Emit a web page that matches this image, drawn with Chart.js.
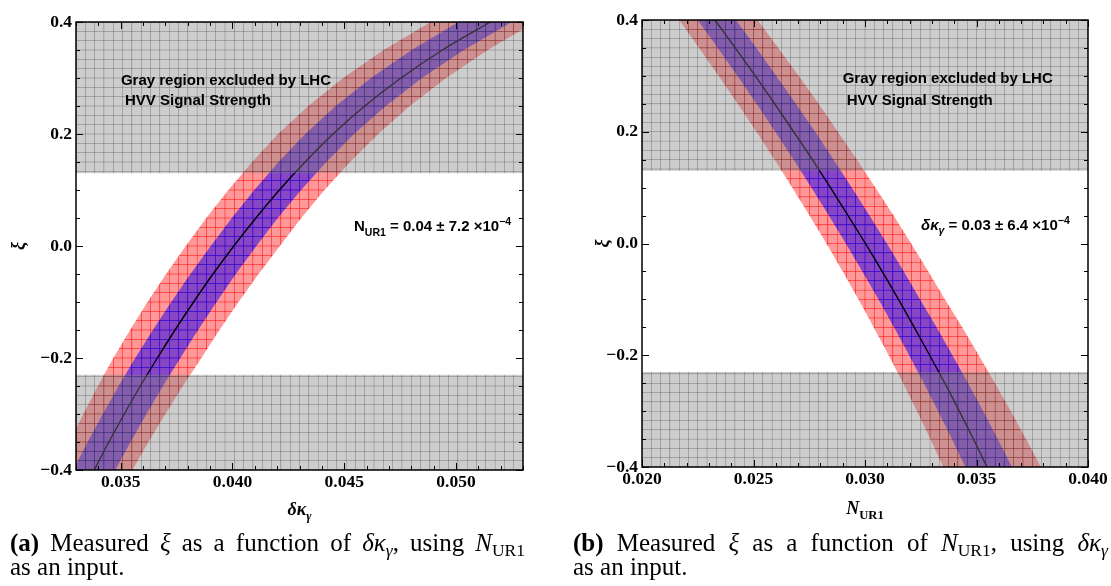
<!DOCTYPE html>
<html>
<head>
<meta charset="utf-8">
<script src="https://cdn.jsdelivr.net/npm/chart.js@4.4.1/dist/chart.umd.min.js"></script>
<style>
body { margin: 0; width: 1111px; height: 586px; overflow: hidden; background: #fff; position: relative; }
canvas { position: absolute; top: 0; }
#chartA { left: 0; }
#chartB { left: 556px; }
.cap { position: absolute; font-family: "Liberation Serif", serif; font-size: 25px; line-height: 24px; white-space: nowrap; color: #000; }
.cap.first { text-align: justify; text-align-last: justify; }
.cap sub { font-size: 70%; vertical-align: baseline; position: relative; top: 0.3em; }
</style>
</head>
<body>
<canvas id="chartA" width="555" height="535"></canvas>
<canvas id="chartB" width="555" height="535"></canvas>
<div class="cap first" style="left:10px;top:531px;width:515px"><b>(a)</b> Measured <i>ξ</i> as a function of <i>δκ</i><sub><i>γ</i></sub>, using <i>N</i><sub>UR1</sub></div>
<div class="cap" style="left:10px;top:555px">as an input.</div>
<div class="cap first" style="left:573px;top:531px;width:535px"><b>(b)</b> Measured <i>ξ</i> as a function of <i>N</i><sub>UR1</sub>, using <i>δκ</i><sub><i>γ</i></sub></div>
<div class="cap" style="left:573px;top:555px">as an input.</div>
<script>
const xiLevels = [-0.4, -0.35, -0.3, -0.25, -0.2, -0.15, -0.1, -0.05, 0.0,
                  0.05, 0.1, 0.15, 0.2, 0.25, 0.3, 0.35, 0.4];

// (a) xi as a function of delta kappa_gamma (N_UR1 as input)
const dkCentral  = [0.03382, 0.03447, 0.03516, 0.03588, 0.03664, 0.03743, 0.03826, 0.03913, 0.04006,
                    0.04105, 0.04210, 0.04325, 0.04450, 0.04592, 0.04754, 0.04940, 0.05154];
const dkBlueLow  = [0.03288, 0.03352, 0.03420, 0.03491, 0.03565, 0.03644, 0.03726, 0.03812, 0.03903,
                    0.03997, 0.04098, 0.04206, 0.04326, 0.04462, 0.04620, 0.04802, 0.05011];
const dkBlueHigh = [0.03476, 0.03544, 0.03615, 0.03689, 0.03767, 0.03846, 0.03929, 0.04015, 0.04107,
                    0.04203, 0.04307, 0.04420, 0.04544, 0.04686, 0.04848, 0.05035, 0.05250];
const dkRedLow   = [0.03212, 0.03271, 0.03333, 0.03398, 0.03467, 0.03542, 0.03620, 0.03703, 0.03791,
                    0.03883, 0.03982, 0.04088, 0.04204, 0.04339, 0.04495, 0.04676, 0.04886];
const dkRedHigh  = [0.03552, 0.03624, 0.03700, 0.03778, 0.03861, 0.03942, 0.04027, 0.04117, 0.04212,
                    0.04308, 0.04412, 0.04526, 0.04652, 0.04793, 0.04956, 0.05142, 0.05355];

// (b) xi as a function of N_UR1 (delta kappa_gamma as input)
const nCentral  = [0.03547, 0.03486, 0.03423, 0.03358, 0.03290, 0.03221, 0.03150, 0.03077, 0.03002,
                   0.02924, 0.02845, 0.02764, 0.02680, 0.02595, 0.02508, 0.02418, 0.02327];
const nBlueLow  = [0.03450, 0.03390, 0.03328, 0.03264, 0.03198, 0.03130, 0.03061, 0.02988, 0.02914,
                   0.02838, 0.02760, 0.02680, 0.02598, 0.02514, 0.02428, 0.02340, 0.02250];
const nBlueHigh = [0.03659, 0.03595, 0.03530, 0.03462, 0.03392, 0.03321, 0.03247, 0.03174, 0.03098,
                   0.03020, 0.02941, 0.02859, 0.02776, 0.02690, 0.02602, 0.02513, 0.02421];
const nRedLow   = [0.03351, 0.03293, 0.03233, 0.03171, 0.03106, 0.03039, 0.02971, 0.02900, 0.02827,
                   0.02751, 0.02674, 0.02595, 0.02513, 0.02429, 0.02344, 0.02256, 0.02167];
const nRedHigh  = [0.03789, 0.03722, 0.03654, 0.03583, 0.03510, 0.03436, 0.03359, 0.03284, 0.03207,
                   0.03128, 0.03047, 0.02964, 0.02878, 0.02792, 0.02703, 0.02611, 0.02518];

// LHC HVV signal strength exclusion (gray)
const lhcUpper = 0.13;
const lhcLower = -0.23;

// ticks
const xiTicks = [-0.4, -0.2, 0.0, 0.2, 0.4];
const xiTickLabels = ["\u22120.4", "\u22120.2", "0.0", "0.2", "0.4"];
const dkTicks = [0.035, 0.040, 0.045, 0.050];
const dkTickLabels = ["0.035", "0.040", "0.045", "0.050"];
const nTicks = [0.020, 0.025, 0.030, 0.035, 0.040];
const nTickLabels = ["0.020", "0.025", "0.030", "0.035", "0.040"];

const meshCells = 48;
const tickFont = { family: "'Liberation Serif', serif", size: 17.5, weight: 'bold' };

function meshPattern(chart, base, line) {
  const a = chart.chartArea;
  const size = 40;
  const cw = (a.right - a.left) / meshCells, ch = (a.bottom - a.top) / meshCells;
  const tile = document.createElement('canvas');
  tile.width = tile.height = size;
  const t = tile.getContext('2d');
  t.fillStyle = base;
  t.fillRect(0, 0, size, size);
  t.fillStyle = line;
  t.fillRect(0, 0, size / cw, size);
  t.fillRect(0, 0, size, size / ch);
  const p = chart.ctx.createPattern(tile, 'repeat');
  p.setTransform(new DOMMatrix([cw / size, 0, 0, ch / size, a.left - 0.5, a.top - 0.5]));
  return p;
}

function patternFor(base, line) {
  return (c) => c.chart.chartArea ? meshPattern(c.chart, base, line) : base;
}

function band(lo, hi) {
  const a = lo.map((x, i) => ({ x, y: xiLevels[i] }));
  const b = hi.map((x, i) => ({ x, y: xiLevels[i] })).reverse();
  return a.concat(b);
}

function drawRich(ctx, parts, x, y, size, family, align) {
  let w = 0;
  const items = parts.map(p => {
    const s = (p.sub || p.sup) ? size * 0.7 : size;
    const font = (p.style || 'bold') + ' ' + s + 'px ' + (p.family || family);
    ctx.font = font;
    const pw = ctx.measureText(p.t).width;
    w += pw;
    return Object.assign({}, p, { font, pw });
  });
  let cx = align === 'center' ? x - w / 2 : x;
  ctx.textAlign = 'left';
  ctx.textBaseline = 'alphabetic';
  for (const it of items) {
    ctx.font = it.font;
    const dy = it.sub ? size * 0.28 : it.sup ? -size * 0.42 : 0;
    ctx.fillText(it.t, cx, y + dy);
    cx += it.pw;
  }
}

const framePlugin = {
  id: 'frame',
  afterDraw(chart, args, o) {
    const { ctx, chartArea: a, scales: { x, y } } = chart;
    ctx.save();
    ctx.strokeStyle = '#000';
    ctx.lineWidth = 1;
    ctx.beginPath();
    const nx = Math.round((x.max - x.min) / o.xMinor);
    for (let i = 0; i <= nx; i++) {
      const v = x.min + i * o.xMinor;
      const major = Math.abs(v / o.xMajor - Math.round(v / o.xMajor)) < 1e-6;
      const px = Math.round(x.getPixelForValue(v)) + 0.5;
      const len = major ? 7 : 4;
      ctx.moveTo(px, a.bottom); ctx.lineTo(px, a.bottom - len);
      ctx.moveTo(px, a.top); ctx.lineTo(px, a.top + len);
    }
    const ny = Math.round((y.max - y.min) / o.yMinor);
    for (let i = 0; i <= ny; i++) {
      const v = y.min + i * o.yMinor;
      const major = Math.abs(v / o.yMajor - Math.round(v / o.yMajor)) < 1e-6;
      const py = Math.round(y.getPixelForValue(v)) + 0.5;
      const len = major ? 7 : 4;
      ctx.moveTo(a.left, py); ctx.lineTo(a.left + len, py);
      ctx.moveTo(a.right, py); ctx.lineTo(a.right - len, py);
    }
    ctx.stroke();
    ctx.lineWidth = 1.5;
    ctx.strokeRect(a.left, a.top, a.right - a.left, a.bottom - a.top);

    ctx.fillStyle = '#000';
    const sans = "'Liberation Sans', Arial, sans-serif";
    for (const n of o.notes) {
      drawRich(ctx, n.parts, x.getPixelForValue(n.x), y.getPixelForValue(n.y), 15, sans, 'left');
    }
    const serif = "'Liberation Serif', serif";
    drawRich(ctx, o.xTitle, (a.left + a.right) / 2, a.bottom + o.xTitleOffset, 18, serif, 'center');
    ctx.save();
    ctx.translate(a.left - o.yTitleOffset, (a.top + a.bottom) / 2);
    ctx.rotate(-Math.PI / 2);
    drawRich(ctx, [{ t: 'ξ', style: 'italic bold' }], 0, 6, 18, serif, 'center');
    ctx.restore();
    ctx.restore();
  }
};

function makeChart(id, c) {
  const grayFill = patternFor('rgba(130,130,130,0.4)', 'rgba(50,50,50,0.28)');
  return new Chart(document.getElementById(id), {
    type: 'line',
    data: {
      datasets: [
        {
          data: [{ x: c.xMin, y: lhcUpper }, { x: c.xMax, y: lhcUpper }],
          borderWidth: 0, pointRadius: 0, fill: 'end', order: 1, backgroundColor: grayFill
        },
        {
          data: [{ x: c.xMin, y: lhcLower }, { x: c.xMax, y: lhcLower }],
          borderWidth: 0, pointRadius: 0, fill: 'start', order: 1, backgroundColor: grayFill
        },
        {
          data: c.central.map((x, i) => ({ x, y: xiLevels[i] })),
          borderColor: '#000', borderWidth: 1.4, pointRadius: 0, tension: 0.3, fill: false, order: 2
        },
        {
          data: band(c.blueLow, c.blueHigh),
          borderWidth: 0, pointRadius: 0, fill: 'shape', order: 3,
          backgroundColor: patternFor('rgba(55,15,225,0.6)', 'rgba(0,0,255,0.45)')
        },
        {
          data: band(c.redLow, c.redHigh),
          borderWidth: 0, pointRadius: 0, fill: 'shape', order: 4,
          backgroundColor: patternFor('#ff9999', 'rgba(255,0,0,0.5)')
        }
      ]
    },
    options: {
      responsive: false,
      animation: false,
      devicePixelRatio: 1,
      layout: { padding: c.padding },
      plugins: {
        legend: { display: false },
        tooltip: { enabled: false },
        frame: {
          xMinor: 0.001, xMajor: 0.005, yMinor: 0.05, yMajor: 0.2,
          notes: c.notes, xTitle: c.xTitle, xTitleOffset: c.xTitleOffset, yTitleOffset: c.yTitleOffset
        }
      },
      scales: {
        x: {
          type: 'linear', min: c.xMin, max: c.xMax,
          afterBuildTicks: s => { s.ticks = c.xTicks.map(v => ({ value: v })); },
          afterFit: s => { s.height = 60; },
          grid: { display: false, drawTicks: false },
          border: { display: false },
          ticks: { callback: (v, i) => c.xLabels[i], font: tickFont, color: '#000', padding: 2, maxRotation: 0, autoSkip: false }
        },
        y: {
          type: 'linear', min: -0.4, max: 0.4,
          afterBuildTicks: s => { s.ticks = xiTicks.map(v => ({ value: v })); },
          afterFit: s => { s.width = c.yAxisWidth; },
          grid: { display: false, drawTicks: false },
          border: { display: false },
          ticks: { callback: (v, i) => xiTickLabels[i], font: tickFont, color: '#000', padding: 4, autoSkip: false }
        }
      }
    },
    plugins: [framePlugin]
  });
}

makeChart('chartA', {
  xMin: 0.033, xMax: 0.053, xTicks: dkTicks, xLabels: dkTickLabels,
  central: dkCentral, blueLow: dkBlueLow, blueHigh: dkBlueHigh, redLow: dkRedLow, redHigh: dkRedHigh,
  padding: { left: 0, top: 22, right: 32, bottom: 5 }, yAxisWidth: 76,
  xTitleOffset: 45, yTitleOffset: 58,
  xTitle: [{ t: 'δκ', style: 'italic bold' }, { t: 'γ', style: 'italic bold', sub: true }],
  notes: [
    { x: 0.03501, y: 0.287, parts: [{ t: 'Gray region excluded by LHC' }] },
    { x: 0.03519, y: 0.251, parts: [{ t: 'HVV Signal Strength' }] },
    { x: 0.04544, y: 0.026, parts: [{ t: 'N' }, { t: 'UR1', sub: true }, { t: ' = 0.04 ± 7.2 ×10' }, { t: '\u22124', sup: true }] }
  ]
});

makeChart('chartB', {
  xMin: 0.020, xMax: 0.040, xTicks: nTicks, xLabels: nTickLabels,
  central: nCentral, blueLow: nBlueLow, blueHigh: nBlueHigh, redLow: nRedLow, redHigh: nRedHigh,
  padding: { left: 0, top: 20, right: 23, bottom: 8 }, yAxisWidth: 86,
  xTitleOffset: 47, yTitleOffset: 40,
  xTitle: [{ t: 'N', style: 'italic bold' }, { t: 'UR1', style: 'bold', sub: true }],
  notes: [
    { x: 0.02900, y: 0.287, parts: [{ t: 'Gray region excluded by LHC' }] },
    { x: 0.02918, y: 0.248, parts: [{ t: 'HVV Signal Strength' }] },
    { x: 0.03251, y: 0.024, parts: [{ t: 'δκ', style: 'italic bold' }, { t: 'γ', style: 'italic bold', sub: true }, { t: ' = 0.03 ± 6.4 ×10' }, { t: '\u22124', sup: true }] }
  ]
});
</script>
</body>
</html>
